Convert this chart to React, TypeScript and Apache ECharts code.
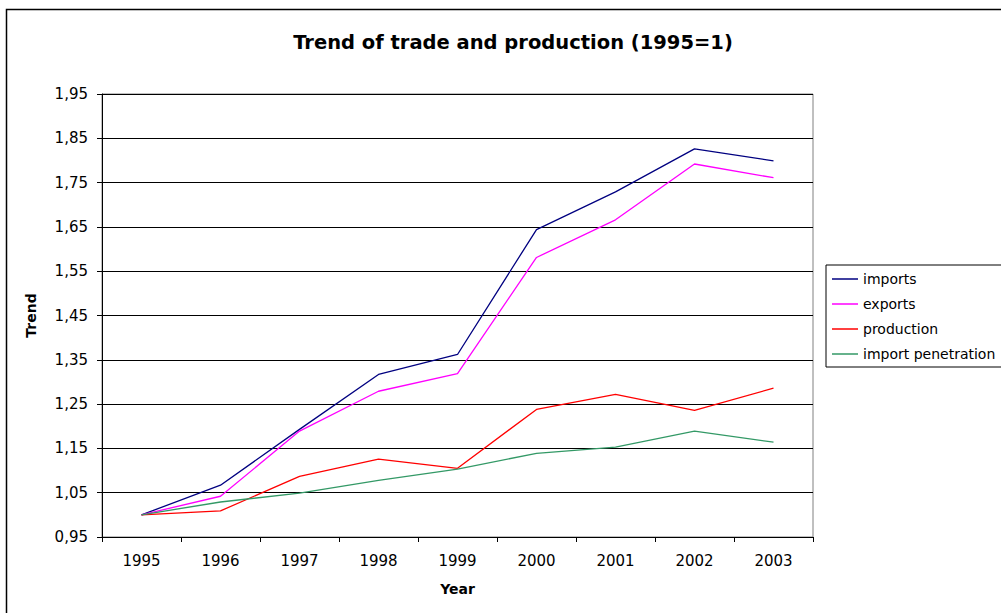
import React, { useEffect, useRef } from "react";
import * as echarts from "echarts";

const years = ["1995", "1996", "1997", "1998", "1999", "2000", "2001", "2002", "2003"];
const imports = [1.0, 1.067, 1.193, 1.317, 1.362, 1.644, 1.729, 1.826, 1.799];
const exportsData = [1.0, 1.042, 1.189, 1.279, 1.319, 1.581, 1.666, 1.792, 1.761];
const production = [1.0, 1.009, 1.087, 1.126, 1.105, 1.238, 1.272, 1.236, 1.286];
const importPenetration = [1.0, 1.029, 1.049, 1.078, 1.103, 1.139, 1.153, 1.189, 1.164];

const seriesNames = ["imports", "exports", "production", "import penetration"];
const seriesColors = ["#000080", "#FF00FF", "#FF0000", "#339966"];
const seriesValues = [imports, exportsData, production, importPenetration];

const FONT = "DejaVu Sans";

export default function App() {
  const ref = useRef<HTMLDivElement>(null);
  useEffect(() => {
    if (!ref.current) return;
    const chart = echarts.init(ref.current, undefined, { renderer: "svg" });
    chart.setOption({
      animation: false,
      backgroundColor: "#ffffff",
      textStyle: { fontFamily: FONT },
      graphic: [
        {
          type: "rect",
          left: 4,
          top: 7,
          shape: { width: 1100, height: 700 },
          style: { fill: "none", stroke: "#000", lineWidth: 1.5 },
          silent: true,
        },
        {
          type: "text",
          x: 513,
          y: 42,
          style: {
            text: "Trend of trade and production (1995=1)",
            font: `bold 19.5px "${FONT}"`,
            fill: "#000",
            align: "center",
            verticalAlign: "middle",
          },
        },
      ],
      legend: {
        orient: "vertical",
        left: 826,
        top: 265,
        data: seriesNames,
        icon: "rect",
        borderColor: "#000",
        borderWidth: 1,
        padding: [5, 30, 4, 6],
        itemWidth: 26,
        itemHeight: 1.5,
        itemGap: 7,
        textStyle: { fontFamily: FONT, fontSize: 14, color: "#000", lineHeight: 18 },
      },
      grid: {
        left: 102,
        top: 94,
        width: 711,
        height: 443,
        show: true,
        borderColor: "#808080",
        borderWidth: 1,
        backgroundColor: "transparent",
      },
      xAxis: {
        type: "category",
        data: years,
        boundaryGap: true,
        name: "Year",
        nameLocation: "middle",
        nameGap: 45,
        nameTextStyle: { fontFamily: FONT, fontSize: 14, fontWeight: "bold", color: "#000" },
        axisLine: { lineStyle: { color: "#000", width: 1 } },
        axisTick: { show: true, length: 5, lineStyle: { color: "#000" } },
        axisLabel: { margin: 16, fontFamily: FONT, fontSize: 15, color: "#000" },
        splitLine: { show: false },
      },
      yAxis: {
        type: "value",
        min: 0.95,
        max: 1.95,
        interval: 0.1,
        name: "Trend",
        nameLocation: "middle",
        nameGap: 64,
        nameRotate: 90,
        nameTextStyle: { fontFamily: FONT, fontSize: 14, fontWeight: "bold", color: "#000" },
        axisLine: { show: true, lineStyle: { color: "#000", width: 1 } },
        axisTick: { show: true, length: 5, lineStyle: { color: "#000" } },
        axisLabel: {
          margin: 14,
          fontFamily: FONT,
          fontSize: 15,
          color: "#000",
          formatter: (v: number) => v.toFixed(2).replace(".", ","),
        },
        splitLine: { show: true, lineStyle: { color: "#000", width: 1 } },
      },
      series: seriesNames.map((name, i) => ({
        name,
        type: "line",
        data: seriesValues[i],
        symbol: "none",
        showSymbol: false,
        color: seriesColors[i],
        itemStyle: { color: seriesColors[i] },
        lineStyle: { color: seriesColors[i], width: 1.3 },
      })),
    });
    return () => chart.dispose();
  }, []);
  return (
    <div
      ref={ref}
      style={{ position: "fixed", left: 0, top: 0, width: 1001, height: 613 }}
    />
  );
}
